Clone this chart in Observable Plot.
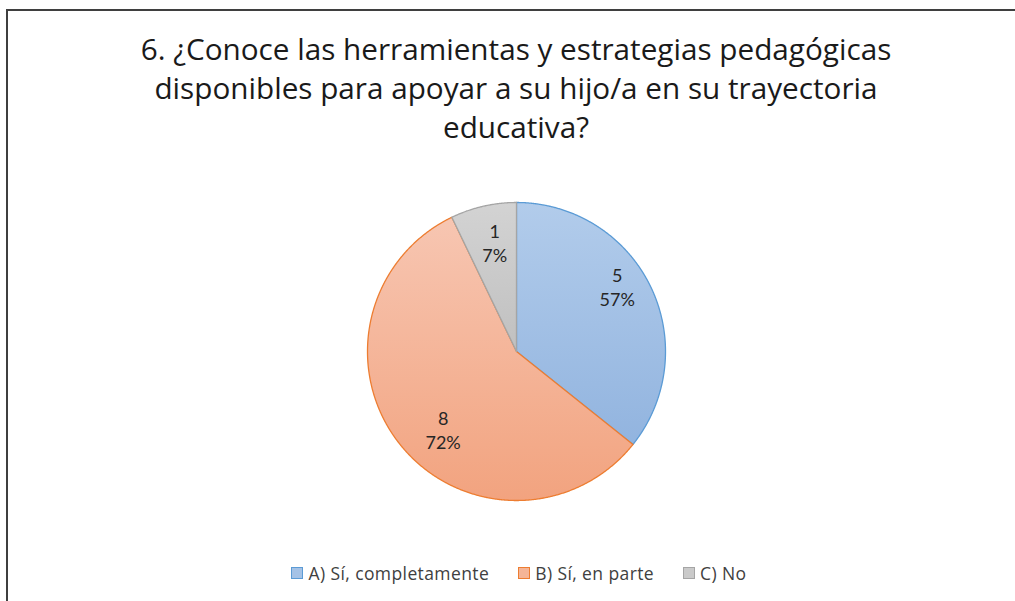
<!DOCTYPE html>
<html><head><meta charset="utf-8">
<script src="https://cdn.jsdelivr.net/npm/d3@7"></script>
<script src="https://cdn.jsdelivr.net/npm/@observablehq/plot@0.6"></script>
<style>
body{margin:0;background:#fff;font-family:"Open Sans",Lato,sans-serif;}
#wrap{position:relative;width:1015px;height:601px;overflow:hidden;background:#fff;}
#frame{position:absolute;left:6px;top:9px;width:1100px;height:700px;border-top:2px solid #3f3f3f;border-left:2px solid #3f3f3f;box-sizing:border-box;}
#chart{position:absolute;left:0;top:0;}
#title{position:absolute;left:0;width:1032px;top:29px;text-align:center;font-size:29.7px;line-height:39px;color:#1a1a1a;}
#legend{position:absolute;left:0;width:1038px;top:563px;display:flex;justify-content:center;gap:29px;font-size:17.5px;letter-spacing:0.4px;line-height:20px;color:#404040;}
#legend .item{display:flex;align-items:center;gap:5px;}
#legend .sw{width:10px;height:10px;border:1px solid;display:inline-block;}
</style>
</head><body>
<div id="wrap">
  <div id="chart"></div>
  <div id="frame"></div>
  <div id="title"></div>
  <div id="legend"></div>
</div>
<script>
// ---- data ----
const titleLines = ["6. ¿Conoce las herramientas y estrategias pedagógicas", "disponibles para apoyar a su hijo/a en su trayectoria", "educativa?"];
const categories = ["A) Sí, completamente", "B) Sí, en parte", "C) No"];
const counts = [5, 8, 1];
const percentLabels = ["57%", "72%", "7%"];

// ---- style ----
const strokes = ["#5b9bd5", "#ed7d31", "#a5a5a5"];
const gradTop = ["#b2cceb", "#f7c6b2", "#d3d3d3"];
const gradBottom = ["#92b4df", "#f2a37f", "#c0c0c0"];
const swatchFill = ["#a4c2e6", "#f5b597", "#cacaca"];
const labelNudge = [[0, -17], [14, 8], [3, 0]];

const W = 1015, H = 601, R = 149, cx = 516, cy = 351;

document.getElementById("title").innerHTML = titleLines.join("<br>");

const arcs = d3.pie().sort(null).value(d => d)(counts);
const pts = [];
arcs.forEach((a, i) => {
  pts.push({k: i, x: 0, y: 0});
  const n = Math.max(2, Math.ceil((a.endAngle - a.startAngle) / 0.005));
  for (let j = 0; j <= n; j++) {
    const t = a.startAngle + (a.endAngle - a.startAngle) * j / n;
    pts.push({k: i, x: Math.sin(t), y: -Math.cos(t)});
  }
  pts.push({k: i, x: 0, y: 0});
});
const labels = arcs.map((a, i) => {
  const m = (a.startAngle + a.endAngle) / 2;
  return {x: 0.75 * Math.sin(m), y: -0.75 * Math.cos(m), text: counts[i] + "\n" + percentLabels[i]};
});

const plot = Plot.plot({
  width: W, height: H,
  margin: 0,
  x: {domain: [-cx / R, (W - cx) / R], range: [0, W], axis: null},
  y: {domain: [-cy / R, (H - cy) / R], range: [0, H], axis: null},
  marks: [
    ...arcs.map((a, i) => Plot.line(pts.filter(p => p.k === i), {
      x: "x", y: "y", fill: `url(#grad${i})`, stroke: strokes[i], strokeWidth: 1.3, curve: "linear", strokeLinejoin: "round"
    })),
    ...labels.map((l, i) => Plot.text([l], {x: "x", y: "y", text: "text", dx: labelNudge[i][0], dy: labelNudge[i][1],
      fontSize: 18, lineHeight: 1.33, fill: "#262626", fontFamily: "Lato"}))
  ]
});

const defs = document.createElementNS("http://www.w3.org/2000/svg", "defs");
gradTop.forEach((c, i) => {
  defs.innerHTML += `<linearGradient id="grad${i}" x1="0" y1="0" x2="0" y2="1"><stop offset="0" stop-color="${c}"/><stop offset="1" stop-color="${gradBottom[i]}"/></linearGradient>`;
});
plot.insertBefore(defs, plot.firstChild);
document.getElementById("chart").appendChild(plot);

const leg = document.getElementById("legend");
categories.forEach((c, i) => {
  const it = document.createElement("span");
  it.className = "item";
  it.innerHTML = `<span class="sw" style="background:${swatchFill[i]};border-color:${strokes[i]}"></span><span>${c}</span>`;
  leg.appendChild(it);
});
</script>
</body></html>
